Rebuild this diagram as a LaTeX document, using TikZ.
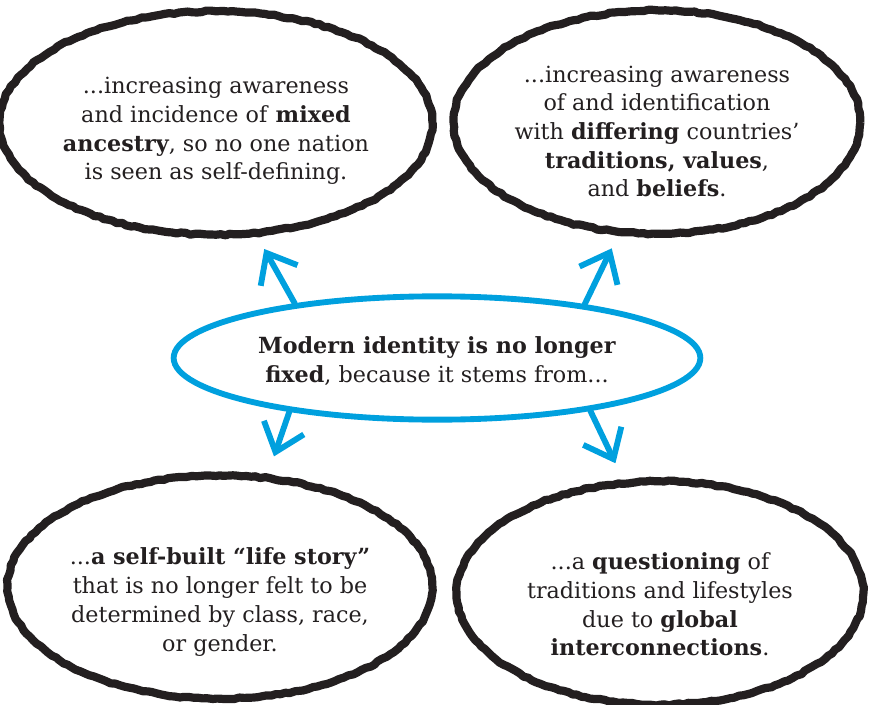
\documentclass[tikz,border=0pt]{standalone}
\usepackage{fontspec}
\setmainfont{DejaVu Serif}
\usepackage{tikz}
\usetikzlibrary{arrows.meta, shapes.geometric, decorations.pathmorphing}
\definecolor{inkblack}{RGB}{35,31,32}
\definecolor{skyblue}{RGB}{0,160,222}
\newcommand{\dropline}[1]{\rule{0pt}{#1}}
\pgfmathsetseed{7}

\begin{document}
\begin{tikzpicture}[
    x=0.03cm, y=-0.03cm,
    font=\fontsize{19}{24.5}\selectfont,
    bubble/.style={ellipse, draw=inkblack, line width=7pt, line join=round,
                   inner sep=0pt, align=center, text=inkblack,
                   minimum width=12.2cm, minimum height=6.7cm,
                   decorate, decoration={random steps, segment length=4pt, amplitude=0.7pt}},
    hub/.style={ellipse, draw=skyblue, line width=5pt, inner sep=0pt,
                align=center, text=inkblack,
                minimum width=15.8cm, minimum height=3.7cm},
    arr/.style={-{Straight Barb[length=22pt, width=36pt]}, line width=5pt,
                draw=skyblue, line cap=round}
]
\useasboundingbox (0,0) rectangle (871,705);
\node[bubble] (mixed) at (216,123) {\dropline{28pt}...increasing awareness\\
      and incidence of \textbf{mixed}\\ \textbf{ancestry}, so no one nation\\
      is seen as self-defining.};
\node[bubble] (beliefs) at (657,122) {\dropline{30pt}...increasing awareness\\
      of and identification\\ with \textbf{differing} countries'\\
      \textbf{traditions, values},\\ and \textbf{beliefs}.};
\node[hub] (identity) at (437,358) {\dropline{19.5pt}\textbf{Modern identity is no longer}\\
      \textbf{fixed}, because it stems from...};
\node[bubble] (story) at (220,587) {\dropline{40pt}...\textbf{a self-built ``life story''}\\
      that is no longer felt to be\\ determined by class, race,\\ or gender.};
\node[bubble] (global) at (660,593) {\dropline{34pt}...a \textbf{questioning} of\\
      traditions and lifestyles\\ due to \textbf{global}\\ \textbf{interconnections}.};
\draw[arr, shorten >=12pt] (identity.159) -- (mixed.-70);
\draw[arr, shorten >=12pt] (identity.20) -- (beliefs.-109);
\draw[arr, shorten >=16pt] (identity.-160) -- (story.67);
\draw[arr, shorten >=15pt] (identity.-19) -- (global.108);
\end{tikzpicture}
\end{document}
